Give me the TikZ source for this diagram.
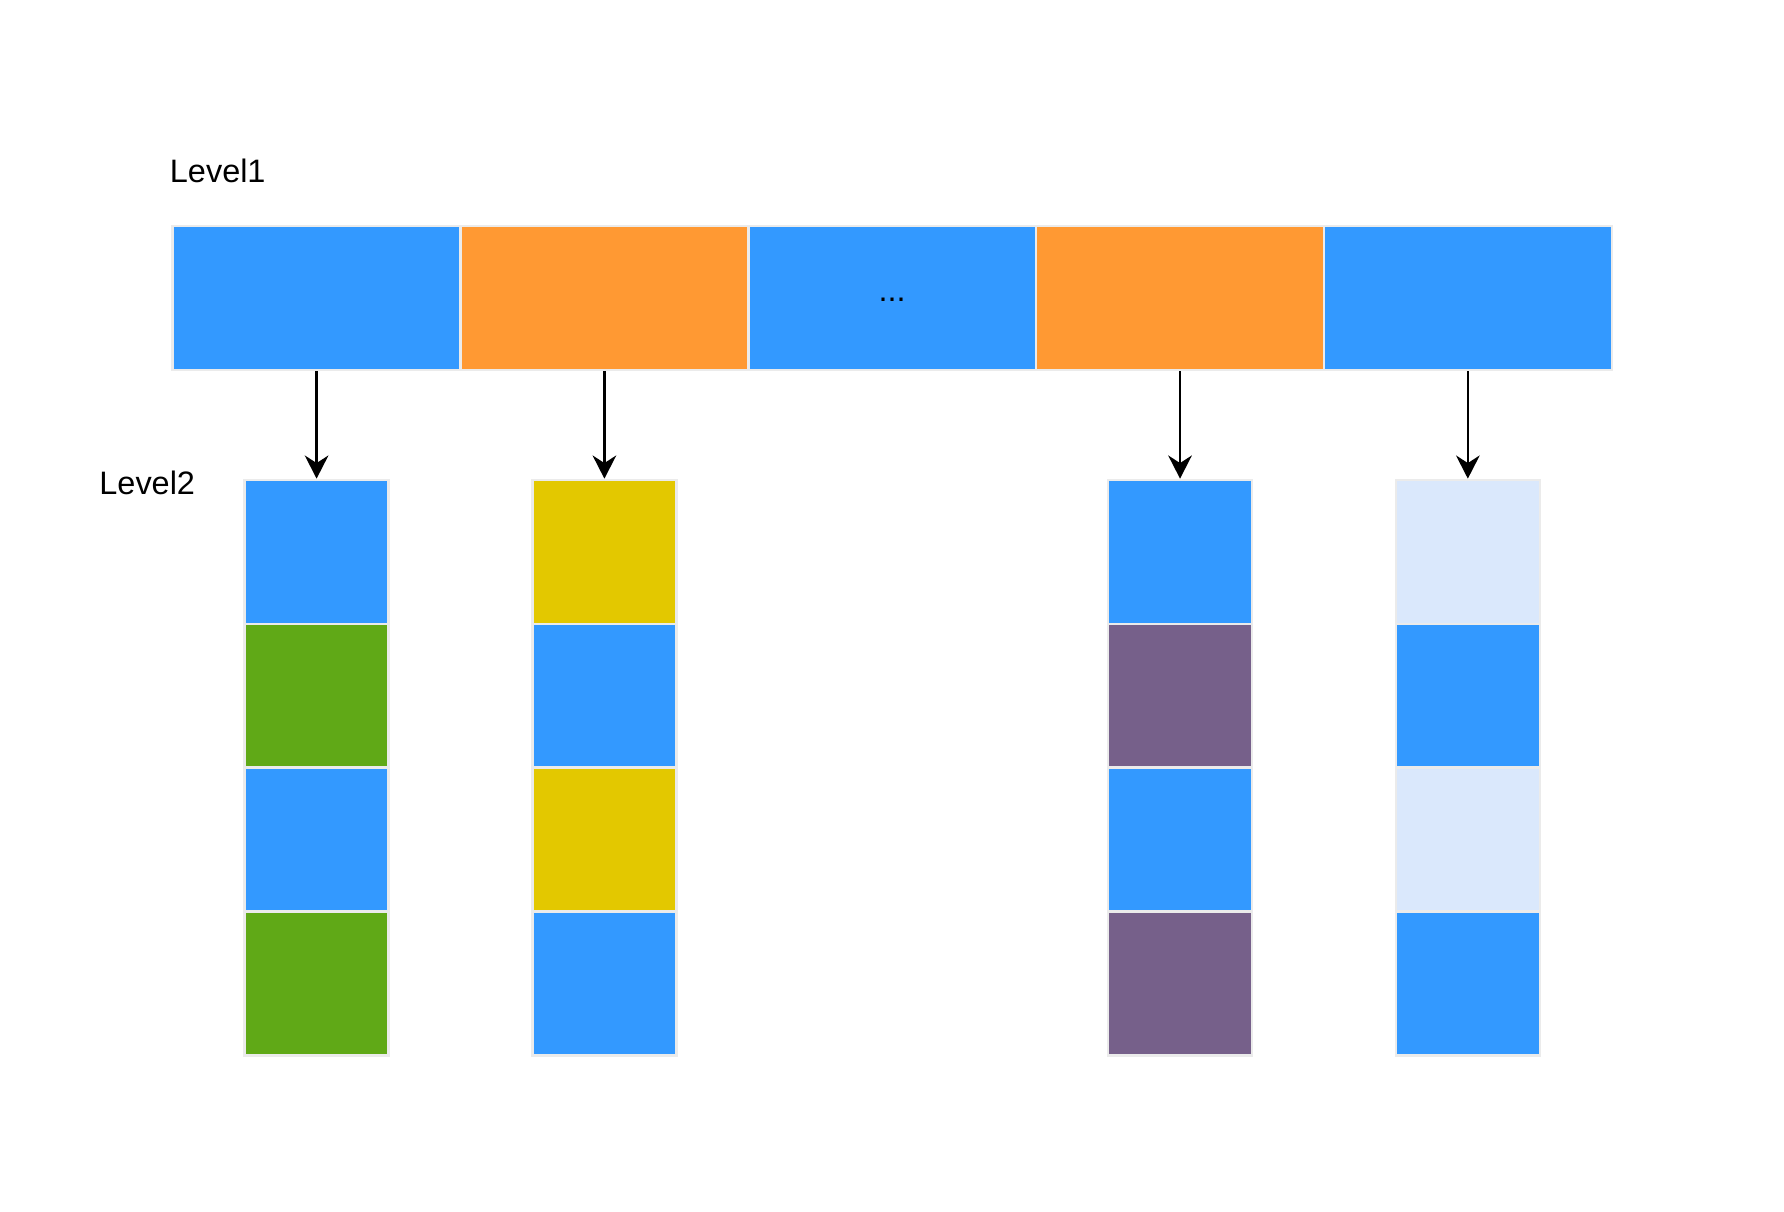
\documentclass[tikz,border=0pt]{standalone}
\usepackage{fontspec}
\setmainfont{Liberation Sans}
\usepackage{tikz}
\usetikzlibrary{arrows.meta}

\definecolor{cblue}{HTML}{3399FF}
\definecolor{corange}{HTML}{FF9933}
\definecolor{cyellow}{HTML}{E3C800}
\definecolor{cgreen}{HTML}{60A917}
\definecolor{cpurple}{HTML}{76608A}
\definecolor{clight}{HTML}{DAE8FC}
\definecolor{cedge}{HTML}{EBEBEB}

\begin{document}
\begin{tikzpicture}[x=1.2cm, y=1.2cm, font=\fontsize{7.7}{9}\selectfont,
    slot/.style={rectangle, draw=cedge, line width=0.6pt, minimum width=2.4cm, minimum height=1.2cm, inner sep=0pt},
    cell/.style={rectangle, draw=cedge, line width=0.6pt, minimum width=1.2cm, minimum height=1.2cm, inner sep=0pt},
    label/.style={anchor=base west, inner sep=0pt},
    n/.style={-{Stealth[length=5.5pt, width=5.6pt, inset=1.8pt]}, line width=0.6pt}]
            \useasboundingbox (-1.2,-6.852) rectangle (11.197,1.57);
            % labels
            \node[label] (lv1) at (-0.025,0.3) {Level1};
            \node[label] (lv2) at (-0.515,-1.869) {Level2};
            % level 1 nodes
            \node[slot, fill=cblue] (b1) at (1,-0.5) {};
            \node[slot, fill=corange] (b2) at (3,-0.5) {};
            \node[slot, fill=cblue] (b3) at (5,-0.5) {\raisebox{-0.55mm}{...}};
            \node[slot, fill=corange] (b4) at (7,-0.5) {};
            \node[slot, fill=cblue] (b5) at (9,-0.5) {};
            % level 2 nodes
            \node[cell, fill=cblue] (c11) at (1,-2.265) {};
            \node[cell, fill=cgreen] (c12) at (1,-3.265) {};
            \node[cell, fill=cblue] (c13) at (1,-4.265) {};
            \node[cell, fill=cgreen] (c14) at (1,-5.265) {};
            \node[cell, fill=cyellow] (c21) at (3,-2.265) {};
            \node[cell, fill=cblue] (c22) at (3,-3.265) {};
            \node[cell, fill=cyellow] (c23) at (3,-4.265) {};
            \node[cell, fill=cblue] (c24) at (3,-5.265) {};
            \node[cell, fill=cblue] (c41) at (7,-2.265) {};
            \node[cell, fill=cpurple] (c42) at (7,-3.265) {};
            \node[cell, fill=cblue] (c43) at (7,-4.265) {};
            \node[cell, fill=cpurple] (c44) at (7,-5.265) {};
            \node[cell, fill=clight] (c51) at (9,-2.265) {};
            \node[cell, fill=cblue] (c52) at (9,-3.265) {};
            \node[cell, fill=clight] (c53) at (9,-4.265) {};
            \node[cell, fill=cblue] (c54) at (9,-5.265) {};
            % edges
            \draw [n] (b1) -- (c11);
            \draw [n] (b2) -- (c21);
            \draw [n] (b4) -- (c41);
            \draw [n] (b5) -- (c51);
        \end{tikzpicture}
\end{document}
